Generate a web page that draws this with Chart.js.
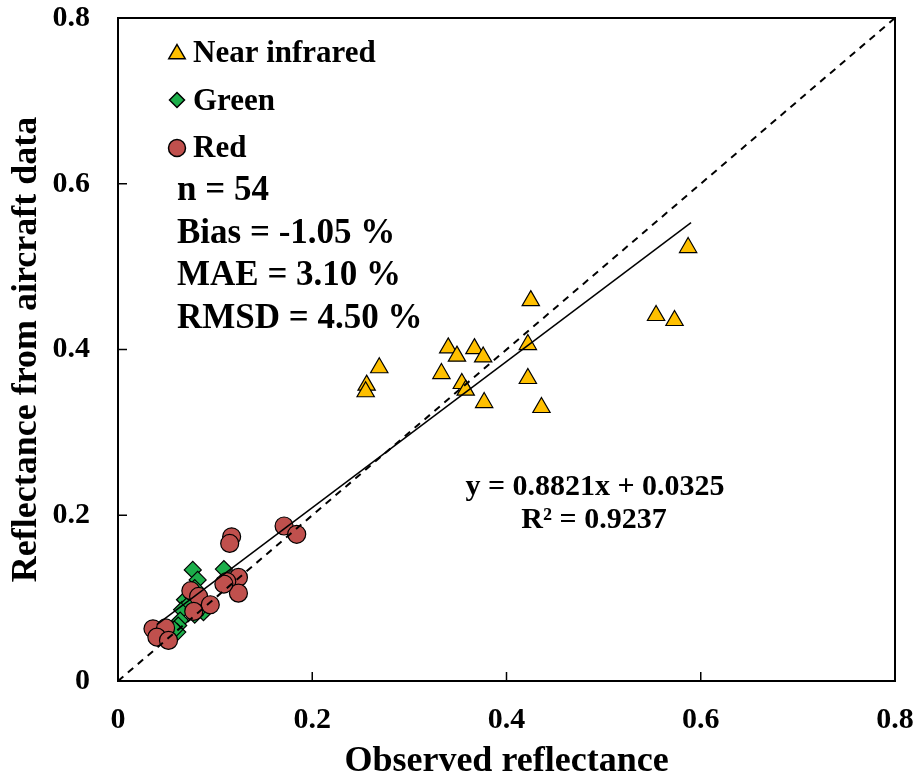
<!DOCTYPE html>
<html>
<head>
<meta charset="utf-8">
<script src="https://cdn.jsdelivr.net/npm/chart.js@4.4.0/dist/chart.umd.min.js"></script>
<style>
  html, body { margin: 0; padding: 0; background: #fff; }
  #wrap { width: 917px; height: 777px; position: relative; }
</style>
</head>
<body>
<div id="wrap"><canvas id="chart"></canvas></div>
<script>
// Near infrared (triangles)
const nirX = [0.587, 0.554, 0.573, 0.425, 0.422, 0.422, 0.436, 0.377, 0.340, 0.349, 0.367, 0.376, 0.333, 0.354, 0.358, 0.269, 0.256, 0.255];
const nirY = [0.523, 0.441, 0.435, 0.459, 0.406, 0.365, 0.330, 0.336, 0.402, 0.392, 0.401, 0.391, 0.371, 0.359, 0.351, 0.378, 0.357, 0.349];

// Green (diamonds)
const greenX = [0.077, 0.082, 0.109, 0.069, 0.071, 0.066, 0.088, 0.079, 0.064, 0.062, 0.061, 0.079, 0.074, 0.085, 0.058];
const greenY = [0.134, 0.122, 0.135, 0.098, 0.090, 0.086, 0.083, 0.080, 0.073, 0.067, 0.059, 0.112, 0.094, 0.088, 0.062];

// Red (circles)
const redX = [0.171, 0.184, 0.117, 0.115, 0.124, 0.112, 0.124, 0.075, 0.083, 0.095, 0.078, 0.036, 0.049, 0.040, 0.052, 0.109];
const redY = [0.187, 0.177, 0.174, 0.166, 0.125, 0.120, 0.106, 0.109, 0.102, 0.092, 0.084, 0.063, 0.064, 0.053, 0.049, 0.117];

// fitted line end points and the 1:1 line
const fitX = [0.04, 0.59];
const fitY = [0.068, 0.553];
const oneX = [0, 0.8];
const oneY = [0, 0.8];

const axisTicks = [0, 0.2, 0.4, 0.6, 0.8];
const legendLabels = ['Near infrared', 'Green', 'Red'];
const statsLines = ['n = 54', 'Bias = -1.05 %', 'MAE = 3.10 %', 'RMSD = 4.50 %'];
const eqLines = ['y = 0.8821x + 0.0325', 'R\u00B2 = 0.9237'];

const SERIF = "'Liberation Serif', 'Times New Roman', serif";
const NIR_COLOR = '#FFC000';
const GREEN_COLOR = '#1DAF4B';
const RED_COLOR = '#C0504D';

const toPoints = (xs, ys) => xs.map((x, i) => ({ x: x, y: ys[i] }));

// Draw a marker by hand (used for the legend)
function drawMarker(ctx, style, x, y, r, fill) {
    ctx.save();
    ctx.fillStyle = fill;
    ctx.strokeStyle = '#000';
    ctx.lineWidth = 1.5;
    ctx.beginPath();
    if (style === 'triangle') {
        ctx.moveTo(x, y - r);
        ctx.lineTo(x + r * 0.866, y + r * 0.5);
        ctx.lineTo(x - r * 0.866, y + r * 0.5);
        ctx.closePath();
    } else if (style === 'rectRot') {
        ctx.moveTo(x, y - r);
        ctx.lineTo(x + r, y);
        ctx.lineTo(x, y + r);
        ctx.lineTo(x - r, y);
        ctx.closePath();
    } else {
        ctx.arc(x, y, r, 0, Math.PI * 2);
    }
    ctx.fill();
    ctx.stroke();
    ctx.restore();
}

const decorations = {
    id: 'decorations',
    afterDraw(chart) {
        const { ctx, chartArea: a, scales } = chart;
        ctx.save();

        // frame
        ctx.strokeStyle = '#000';
        ctx.lineWidth = 2;
        ctx.strokeRect(a.left, a.top, a.right - a.left, a.bottom - a.top);

        // inward tick marks
        ctx.lineWidth = 1.5;
        axisTicks.slice(1, -1).forEach(v => {
            const px = scales.x.getPixelForValue(v);
            ctx.beginPath();
            ctx.moveTo(px, a.bottom);
            ctx.lineTo(px, a.bottom - 9);
            ctx.stroke();
            const py = scales.y.getPixelForValue(v);
            ctx.beginPath();
            ctx.moveTo(a.left, py);
            ctx.lineTo(a.left + 9, py);
            ctx.stroke();
        });

        // legend
        ctx.fillStyle = '#000';
        ctx.textBaseline = 'alphabetic';
        ctx.textAlign = 'left';
        ctx.font = 'bold 31px ' + SERIF;
        const legendStyles = [['triangle', NIR_COLOR, 9.5], ['rectRot', GREEN_COLOR, 7.5], ['circle', RED_COLOR, 8.5]];
        const legendBase = [62, 110, 157];
        const markerY = [54, 100, 148];
        legendLabels.forEach((label, i) => {
            const [style, color, r] = legendStyles[i];
            drawMarker(ctx, style, 177, markerY[i], r, color);
            ctx.fillStyle = '#000';
            ctx.fillText(label, 193, legendBase[i]);
        });

        // statistics
        ctx.font = 'bold 35px ' + SERIF;
        const statsBase = [200, 243, 285, 328];
        statsLines.forEach((t, i) => ctx.fillText(t, 177, statsBase[i]));

        // regression equation
        ctx.font = 'bold 30px ' + SERIF;
        ctx.textAlign = 'center';
        ctx.fillText(eqLines[0], 595, 495);
        ctx.fillText(eqLines[1], 594, 528);

        ctx.restore();
    }
};

const zeroPad = (s) => { s.paddingTop = 0; s.paddingBottom = 0; s.paddingLeft = 0; s.paddingRight = 0; };

new Chart(document.getElementById('chart'), {
    type: 'scatter',
    data: {
        datasets: [
            {
                label: '1:1',
                type: 'line',
                data: toPoints(oneX, oneY),
                borderColor: '#000',
                borderWidth: 2,
                borderDash: [7, 6],
                pointRadius: 0,
                fill: false,
                order: 0
            },
            {
                label: 'Fit',
                type: 'line',
                data: toPoints(fitX, fitY),
                borderColor: '#000',
                borderWidth: 1.5,
                pointRadius: 0,
                fill: false,
                order: 0
            },
            {
                label: 'Red',
                data: toPoints(redX, redY),
                pointStyle: 'circle',
                pointRadius: 9,
                backgroundColor: RED_COLOR,
                borderColor: '#000',
                borderWidth: 1.2,
                order: 1
            },
            {
                label: 'Green',
                data: toPoints(greenX, greenY),
                pointStyle: 'rectRot',
                pointRadius: 8.5,
                backgroundColor: GREEN_COLOR,
                borderColor: '#000',
                borderWidth: 1.2,
                order: 2
            },
            {
                label: 'Near infrared',
                data: toPoints(nirX, nirY),
                pointStyle: 'triangle',
                pointRadius: 10,
                backgroundColor: NIR_COLOR,
                borderColor: '#000',
                borderWidth: 1.2,
                order: 3
            }
        ]
    },
    options: {
        responsive: true,
        maintainAspectRatio: false,
        animation: false,
        layout: { padding: { top: 18, right: 22, left: 0, bottom: 0 } },
        plugins: {
            legend: { display: false },
            tooltip: { enabled: false }
        },
        scales: {
            x: {
                type: 'linear',
                min: 0,
                max: 0.8,
                afterFit: (s) => { s.height = 96; zeroPad(s); },
                afterBuildTicks: (s) => { s.ticks = axisTicks.map(v => ({ value: v })); },
                grid: { display: false, drawTicks: false },
                border: { display: false },
                ticks: {
                    padding: 21,
                    color: '#000',
                    font: { family: SERIF, size: 30, weight: 'bold' },
                    callback: (v) => (v === 0 ? '0' : v.toFixed(1))
                },
                title: {
                    display: true,
                    text: 'Observed reflectance',
                    color: '#000',
                    font: { family: SERIF, size: 36, weight: 'bold', lineHeight: 1 },
                    padding: { top: 0, bottom: -3 }
                }
            },
            y: {
                type: 'linear',
                min: 0,
                max: 0.8,
                afterFit: (s) => { s.width = 118; zeroPad(s); },
                afterBuildTicks: (s) => { s.ticks = axisTicks.map(v => ({ value: v })); },
                grid: { display: false, drawTicks: false },
                border: { display: false },
                ticks: {
                    padding: 28,
                    color: '#000',
                    font: { family: SERIF, size: 30, weight: 'bold' },
                    callback: (v) => (v === 0 ? '0' : v.toFixed(1))
                },
                title: {
                    display: true,
                    text: 'Reflectance from aircraft data',
                    color: '#000',
                    font: { family: SERIF, size: 36, weight: 'bold', lineHeight: 1 },
                    padding: { top: 9, bottom: 0 }
                }
            }
        }
    },
    plugins: [decorations]
});
</script>
</body>
</html>
